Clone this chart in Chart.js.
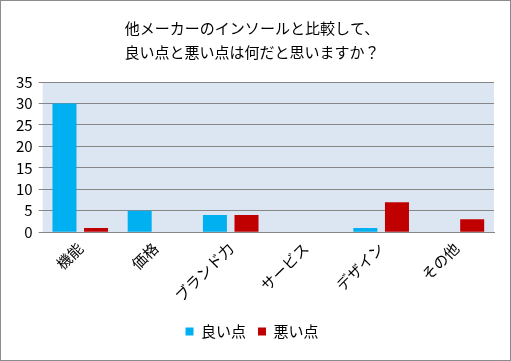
<!DOCTYPE html>
<html>
<head>
<meta charset="utf-8">
<script src="https://cdn.jsdelivr.net/npm/chart.js@4/dist/chart.umd.min.js"></script>
<style>
  html, body { margin: 0; padding: 0; background: #fff; }
  #wrap { width: 509px; height: 359px; border: 1px solid #8c8c8c; position: relative; }
</style>
</head>
<body>
<div id="wrap"><canvas id="c" width="509" height="359"></canvas></div>
<script>
// データ
const categories = ['機能', '価格', 'ブランド力', 'サービス', 'デザイン', 'その他'];
const goodPoints = [30, 5, 4, 0, 1, 0];
const badPoints = [1, 0, 4, 0, 7, 3];
const titleLines = ['他メーカーのインソールと比較して、', '良い点と悪い点は何だと思いますか？'];

const FONT = "'Noto Sans CJK JP', 'Noto Sans', sans-serif";

// プロットエリアの背景
const plotBg = {
    id: 'plotBg',
    beforeDraw(chart) {
        const { ctx, chartArea: a } = chart;
        ctx.save();
        ctx.fillStyle = '#dce6f2';
        ctx.fillRect(a.left, a.top, a.right - a.left, a.bottom - a.top);
        ctx.restore();
    }
};

new Chart(document.getElementById('c'), {
    type: 'bar',
    data: {
        labels: categories,
        datasets: [
            { label: '良い点', data: goodPoints, backgroundColor: '#00b0f0' },
            { label: '悪い点', data: badPoints, backgroundColor: '#c00000' }
        ]
    },
    options: {
        responsive: false,
        animation: false,
        maintainAspectRatio: false,
        layout: { padding: { left: 9, right: 16, top: 4, bottom: 11 } },
        datasets: { bar: { categoryPercentage: 0.84, barPercentage: 0.76 } },
        scales: {
            x: {
                grid: { display: false, drawTicks: false },
                border: { display: true, color: '#868686' },
                ticks: {
                    color: '#000',
                    font: { family: FONT, size: 15 },
                    minRotation: 45,
                    maxRotation: 45,
                    autoSkip: false,
                    padding: 7
                }
            },
            y: {
                min: 0,
                max: 35,
                ticks: { stepSize: 5, autoSkip: false, color: '#000', font: { family: FONT, size: 15 }, padding: 6 },
                grid: { color: '#868686', tickLength: 4, tickColor: '#868686' },
                border: { display: false }
            }
        },
        plugins: {
            title: {
                display: true,
                text: titleLines,
                color: '#000',
                font: { family: FONT, size: 15, weight: 'normal', lineHeight: 1.6 },
                padding: { top: 11, bottom: 18 }
            },
            legend: {
                position: 'bottom',
                labels: {
                    color: '#000',
                    font: { family: FONT, size: 15 },
                    boxWidth: 8,
                    boxHeight: 8,
                    padding: 12
                }
            },
            tooltip: { enabled: false }
        }
    },
    plugins: [plotBg]
});
</script>
</body>
</html>
